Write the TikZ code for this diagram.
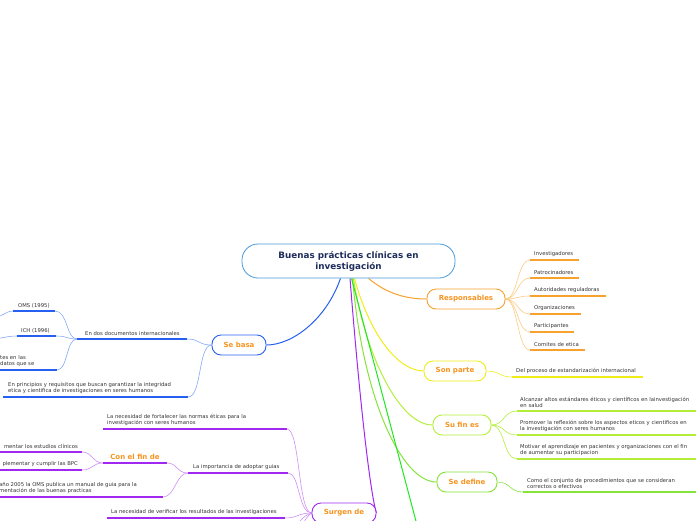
\documentclass[tikz,border=0pt]{standalone}
\usepackage{fontspec}
\setmainfont{DejaVu Sans}
\usetikzlibrary{backgrounds}
\definecolor{rootc}{HTML}{4A9ADB}
\definecolor{navy}{HTML}{1F2D5C}
\definecolor{orc}{HTML}{F7A12F}
\definecolor{orl}{HTML}{FBCB83}
\definecolor{yec}{HTML}{F0EC18}
\definecolor{ygc}{HTML}{B4EE3A}
\definecolor{grc}{HTML}{86E33A}
\definecolor{bgc}{HTML}{1EE81E}
\definecolor{blc}{HTML}{2560F0}
\definecolor{bll}{HTML}{86A8F5}
\definecolor{puc}{HTML}{A028F0}
\definecolor{pul}{HTML}{CC90F7}
\definecolor{lbl}{HTML}{F7931E}
\definecolor{txtc}{HTML}{333333}
\begin{document}
\begin{tikzpicture}[x=1pt,y=-1pt,
  leaf/.style={font=\fontsize{5.3}{6.6}\selectfont, text=txtc, align=left, inner sep=0pt, anchor=south west},
  topic/.style={draw, rounded corners=9pt, line width=0.9pt, fill=white, font=\bfseries\fontsize{7}{8}\selectfont, text=lbl, minimum height=20pt, inner sep=0pt},
  main/.style={line width=1pt},
  sub/.style={line width=0.6pt},
  uline/.style={line width=1.5pt}
  ]
\useasboundingbox (0,0) rectangle (696,520);
\clip (0,0) rectangle (696,520);
% root
\node[draw=rootc, fill=white, line width=0.8pt, rounded corners=16pt, minimum width=213pt, minimum height=34pt, align=center, font=\bfseries\fontsize{8.8}{11}\selectfont, text=navy] (root) at (348.5,261) {Buenas prácticas clínicas en\\investigación};
% topics
\node[topic, draw=orc, minimum width=78pt] (resp) at (466,299) {Responsables};
\node[topic, draw=yec, minimum width=62pt] (sonp) at (455,371) {Son parte};
\node[topic, draw=ygc, minimum width=58pt] (sufin) at (462,425) {Su fin es};
\node[topic, draw=grc, minimum width=60pt] (sedef) at (467,482) {Se define};
\node[topic, draw=blc, minimum width=54pt] (sebasa) at (239,345) {Se basa};
\node[topic, draw=puc, minimum width=64pt] (surgen) at (344,513) {Surgen de};
\coordinate (offg) at (421,540);

% ---------- Responsables leaves
\foreach \n/\t/\y/\e in {i1/Investigadores/260/579, i2/Patrocinadores/278/579, i3/Autoridades reguladoras/296/606, i4/Organizaciones/314/581, i5/Participantes/332/574, i6/Comites de etica/350/585}{
  \coordinate (\n a) at (530,\y);
  \coordinate (\n b) at (\e,\y);
  \node[leaf] (\n) at (534,\y-3) {\t};
  \draw[orc, uline] (\n a) -- (\n b);
  \begin{scope}[on background layer]
  \draw[orl, sub] (resp.east) .. controls (518,299) and (517,\y) .. (\n a);
  \end{scope}
}
% ---------- Son parte leaf
\coordinate (spa) at (512,377); \coordinate (spb) at (643,377);
\node[leaf] (sp1) at (516,374) {Del proceso de estandarización internacional};
\draw[yec, uline] (spa) -- (spb);

% ---------- Su fin es leaves
\coordinate (f1a) at (517,411); \coordinate (f1b) at (700,411);
\coordinate (f2a) at (517,435); \coordinate (f2b) at (700,435);
\coordinate (f3a) at (517,459); \coordinate (f3b) at (700,459);
\node[leaf] (f1) at (520,408) {Alcanzar altos estándares éticos y científicos en lainvestigación\\en salud};
\node[leaf] (f2) at (520,432) {Promover la reflexión sobre los aspectos eticos y cientificos en\\la investigación con seres humanos};
\node[leaf] (f3) at (520,456) {Motivar el aprendizaje en pacientes y organizaciones con el fin\\de aumentar su participacion};
\draw[ygc, uline] (f1a) -- (f1b);
\draw[ygc, uline] (f2a) -- (f2b);
\draw[ygc, uline] (f3a) -- (f3b);

% ---------- Se define leaf
\coordinate (d1a) at (523,492); \coordinate (d1b) at (700,492);
\node[leaf] (d1) at (527,489) {Como el conjunto de procedimientos que se consideran\\correctos o efectivos};
\draw[grc, uline] (d1a) -- (d1b);

% ---------- Se basa leaves
\coordinate (b1a) at (77,339); \coordinate (b1b) at (187,339);
\node[leaf] (b1) at (85,336) {En dos documentos internacionales};
\coordinate (b2a) at (3,397); \coordinate (b2b) at (188,397);
\node[leaf] (b2) at (8,394) {En principios y requisitos que buscan garantizar la integridad\\etica y cientifica de investigaciones en seres humanos};
\coordinate (o1a) at (13,311); \coordinate (o1b) at (55,311);
\node[leaf] (o1) at (18,308) {OMS (1995)};
\coordinate (o2a) at (17,336); \coordinate (o2b) at (56,336);
\node[leaf] (o2) at (21,333) {ICH (1996)};
\coordinate (o3a) at (-5,370); \coordinate (o3b) at (57,370);
\node[leaf] (o3) at (0,367) {tes en las\\datos que se};
\coordinate (o1c) at (-12,318);
\coordinate (o2c) at (-12,339);
\foreach \a/\b in {b1a/b1b, b2a/b2b, o1a/o1b, o2a/o2b, o3a/o3b}{
  \draw[blc, uline] (\a) -- (\b);
}

% ---------- Surgen de leaves
\coordinate (s1a) at (103,429); \coordinate (s1b) at (287,429);
\node[leaf] (s1) at (107,426) {La necesidad de fortalecer las normas éticas para la\\investigación con seres humanos};
\coordinate (s2a) at (188,473); \coordinate (s2b) at (288,473);
\node[leaf] (s2) at (193,470) {La importancia de adoptar guias};
\coordinate (cfa) at (103,463); \coordinate (cfb) at (167,463);
\node[font=\bfseries\fontsize{7}{8}\selectfont, text=lbl, inner sep=0pt, anchor=south] (cf) at (135,460) {Con el fin de};
\coordinate (c1a) at (-5,452); \coordinate (c1b) at (82,452);
\node[leaf, anchor=south east] (c1) at (78,449) {mentar los estudios clínicos};
\coordinate (c2a) at (-5,470); \coordinate (c2b) at (82,470);
\node[leaf, anchor=south east] (c2) at (78,467) {plementar y cumplir las BPC};
\coordinate (s3a) at (-5,497); \coordinate (s3b) at (163,497);
\node[leaf] (s3) at (-1,494) {año 2005 la OMS publica un manual de guia para la\\mentación de las buenas practicas};
\coordinate (s4a) at (107,518); \coordinate (s4b) at (285,518);
\node[leaf] (s4) at (111,515) {La necesidad de verificar los resultados de las investigaciones};
\coordinate (sx1) at (292,535);
\coordinate (sx2) at (300,540);
\foreach \a/\b in {s1a/s1b, s2a/s2b, cfa/cfb, c1a/c1b, c2a/c2b, s3a/s3b, s4a/s4b}{
  \draw[puc, uline] (\a) -- (\b);
}

% ---------- connectors (background)
\begin{scope}[on background layer]
\draw[blc, main] ([xshift=-8pt]root.south) .. controls (326,320) and (292,345) .. (sebasa.east);
\draw[orc, main] ([xshift=20pt]root.south) .. controls (386,293) and (405,299) .. (resp.west);
\draw[yec, main] ([xshift=6pt]root.south) .. controls (366,322) and (392,370) .. (sonp.west);
\draw[ygc, main] ([xshift=5pt]root.south) .. controls (364,350) and (398,425) .. (sufin.west);
\draw[grc, main] ([xshift=4pt]root.south) .. controls (363,400) and (402,482) .. (sedef.west);
\draw[bgc, main] ([xshift=3pt]root.south) -- (offg);
\draw[puc, main] ([xshift=1.5pt]root.south) .. controls (362,430) and (372,500) .. (surgen.east);
% son parte / su fin / se define
\draw[yec, sub] (sonp.east) .. controls (500,371) and (499,377) .. (spa);
\foreach \c in {f1a,f2a,f3a}{
  \draw[ygc, sub] (sufin.east) .. controls (505,425) and (503,0|-\c) .. (\c);
}
\draw[grc, sub] (sedef.east) .. controls (511,482) and (509,492) .. (d1a);
% se basa
\draw[bll, sub] (sebasa.west) .. controls (198,345) and (200,339) .. (b1b);
\draw[bll, sub] (sebasa.west) .. controls (198,345) and (202,397) .. (b2b);
\draw[bll, sub] (b1a) .. controls (66,339) and (68,311) .. (o1b);
\draw[bll, sub] (b1a) .. controls (66,339) and (68,336) .. (o2b);
\draw[bll, sub] (b1a) .. controls (66,339) and (68,370) .. (o3b);
\draw[bll, sub] (o1a) .. controls (5,311) and (3,318) .. (o1c);
\draw[bll, sub] (o2a) .. controls (5,336) and (3,339) .. (o2c);
% surgen de
\draw[pul, sub] (surgen.west) .. controls (298,513) and (300,429) .. (s1b);
\draw[pul, sub] (surgen.west) .. controls (298,513) and (300,473) .. (s2b);
\draw[pul, sub] (surgen.west) .. controls (298,513) and (298,518) .. (s4b);
\draw[pul, sub] (surgen.west) .. controls (302,516) and (296,525) .. (sx1);
\draw[pul, sub] (surgen.west) .. controls (304,518) and (300,530) .. (sx2);
\draw[pul, sub] (s2a) .. controls (176,473) and (178,463) .. (cfb);
\draw[pul, sub] (s2a) .. controls (176,473) and (175,497) .. (s3b);
\draw[pul, sub] (cfa) .. controls (92,463) and (93,452) .. (c1b);
\draw[pul, sub] (cfa) .. controls (92,463) and (93,470) .. (c2b);
\end{scope}
\end{tikzpicture}
\end{document}
